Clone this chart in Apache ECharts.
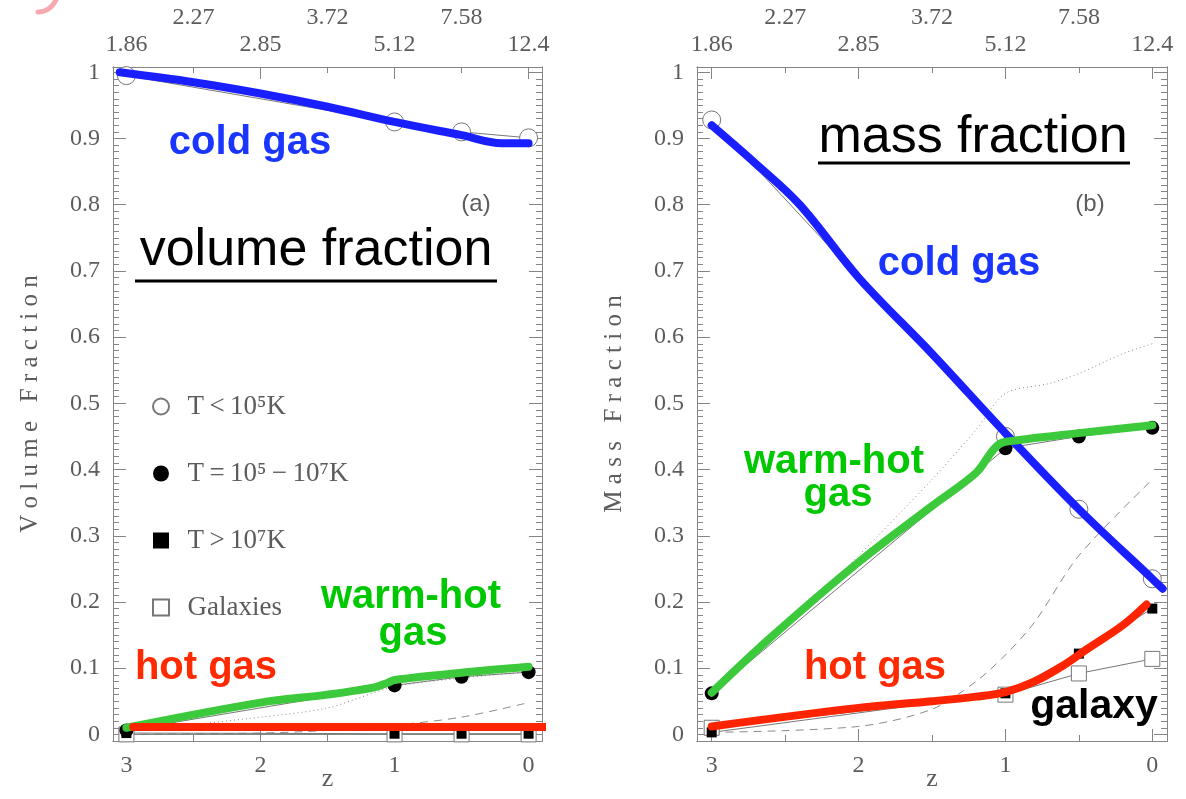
<!DOCTYPE html>
<html>
<head>
<meta charset="utf-8">
<script src="https://cdn.jsdelivr.net/npm/echarts@6/dist/echarts.min.js"></script>
<style>
html, body { margin: 0; padding: 0; background: #fff; }
#chart { width: 1186px; height: 799px; }
</style>
</head>
<body>
<div id="chart"></div>
<script>
// redshift of the simulation outputs
const zOut = [3, 1, 0.5, 0];

// (a) volume fraction per phase
const volCold = [0.995, 0.925, 0.910, 0.901];
const volWarm = [0.006, 0.074, 0.087, 0.094];
const volHot = [0.002, 0.001, 0.001, 0.001];
const volGal = [0.0, 0.0, 0.0, 0.0];

// (b) mass fraction per phase
const massCold = [0.928, 0.450, 0.340, 0.235];
const massWarm = [0.062, 0.432, 0.450, 0.463];
const massHot = [0.003, 0.062, 0.122, 0.190];
const massGal = [0.010, 0.060, 0.092, 0.114];

// thin dotted / dashed comparison curves
const volDotZ = [3, 2, 1.5, 1, 0.5, 0];
const volDot = [0.004, 0.026, 0.040, 0.072, 0.085, 0.095];
const volDashZ = [3, 2, 1.5, 1, 0.5, 0];
const volDash = [0.0, 0.002, 0.006, 0.014, 0.026, 0.048];
const massDotZ = [3, 2.5, 2, 1.5, 1.2, 1, 0.7, 0.5, 0.2, 0];
const massDot = [0.06, 0.16, 0.27, 0.385, 0.46, 0.515, 0.53, 0.545, 0.575, 0.59];
const massDashZ = [3, 2, 1.5, 1.2, 1, 0.8, 0.5, 0];
const massDash = [0.003, 0.012, 0.038, 0.08, 0.12, 0.17, 0.27, 0.385];

// thick hand drawn highlight curves
const volColdLineZ = [3.05, 2.5, 2, 1.5, 1, 0.5, 0.2, 0];
const volColdLine = [1.0, 0.985, 0.968, 0.948, 0.925, 0.905, 0.893, 0.893];
const volWarmLineZ = [3, 2, 1.5, 1.15, 1.05, 1.0, 0.5, 0];
const volWarmLine = [0.01, 0.048, 0.06, 0.071, 0.078, 0.082, 0.093, 0.102];
const volHotLineZ = [2.95, -0.13];
const volHotLine = [0.011, 0.011];
const massColdLineZ = [3, 2.7, 2.4, 2, 1.5, 1, 0.5, 0, -0.07];
const massColdLine = [0.92, 0.862, 0.80, 0.69, 0.575, 0.455, 0.34, 0.235, 0.22];
const massWarmLineZ = [3, 2.6, 2, 1.5, 1.2, 1.1, 1.05, 1, 0.5, 0];
const massWarmLine = [0.063, 0.146, 0.26, 0.345, 0.395, 0.425, 0.437, 0.442, 0.455, 0.467];
const massHotLineZ = [3, 2, 1.5, 1.2, 1, 0.8, 0.6, 0.45, 0.2, 0.04];
const massHotLine = [0.012, 0.04, 0.05, 0.057, 0.064, 0.08, 0.105, 0.128, 0.165, 0.196];

// axis ticks and labels
const zTicks = [3, 2, 1, 0];
const zHalfTicks = [2.5, 1.5, 0.5];
const ageLabels = ['1.86', '2.85', '5.12', '12.4'];
const ageHalfLabels = ['2.27', '3.72', '7.58'];
const yLabelVals = [0, 0.1, 0.2, 0.3, 0.4, 0.5, 0.6, 0.7, 0.8, 0.9, 1];
const legendNames = ['T\u2009<\u200910⁵K', 'T\u2009=\u200910⁵\u2009−\u200910⁷K', 'T\u2009>\u200910⁷K', 'Galaxies'];

const AXIS_COLOR = '#858585';
const TEXT_COLOR = '#5c5c5c';
const SERIF = '"Liberation Serif", "DejaVu Serif", serif';
const SANS = '"Liberation Sans", Arial, sans-serif';

const minorY = [];
for (let i = -1; i <= 100; i++) minorY.push(+(i * 0.01).toFixed(2));

const pairs = (xs, ys) => xs.map((x, i) => [x, ys[i]]);

function xAxesFor(g) {
  const base = {
    gridIndex: g, type: 'value', min: -0.1, max: 3.1, inverse: true,
    splitLine: { show: false },
    axisLine: { show: true, onZero: false, lineStyle: { color: AXIS_COLOR, width: 1 } }
  };
  const lab = { fontFamily: SERIF, fontSize: 24, color: TEXT_COLOR };
  return [
    Object.assign({}, base, {
      position: 'bottom',
      name: 'z', nameLocation: 'middle', nameGap: 25, nameMoveOverlap: false,
      nameTextStyle: { fontFamily: SERIF, fontSize: 26, color: TEXT_COLOR },
      axisTick: { inside: true, length: 12, customValues: zTicks, lineStyle: { color: AXIS_COLOR } },
      axisLabel: Object.assign({ customValues: zTicks, margin: 13 }, lab)
    }),
    Object.assign({}, base, {
      position: 'bottom',
      axisTick: { inside: true, length: 6, customValues: zHalfTicks, lineStyle: { color: AXIS_COLOR } },
      axisLabel: { show: false }
    }),
    Object.assign({}, base, {
      position: 'top',
      axisTick: { inside: true, length: 12, customValues: zTicks, lineStyle: { color: AXIS_COLOR } },
      axisLabel: Object.assign({
        customValues: zTicks, margin: 10,
        formatter: v => ageLabels[zTicks.indexOf(v)]
      }, lab)
    }),
    Object.assign({}, base, {
      position: 'top',
      axisTick: { inside: true, length: 6, customValues: zHalfTicks, lineStyle: { color: AXIS_COLOR } },
      axisLabel: Object.assign({
        customValues: zHalfTicks, margin: 37,
        formatter: v => ageHalfLabels[zHalfTicks.indexOf(v)]
      }, lab)
    })
  ];
}

function yAxesFor(g, title) {
  const base = {
    gridIndex: g, type: 'value', min: -0.01, max: 1.008,
    splitLine: { show: false },
    axisLine: { show: true, onZero: false, lineStyle: { color: AXIS_COLOR, width: 1 } }
  };
  return [
    Object.assign({}, base, {
      position: 'left',
      name: title, nameLocation: 'middle', nameGap: 70,
      nameTextStyle: { fontFamily: SERIF, fontSize: 25, color: TEXT_COLOR },
      axisTick: { inside: true, length: 13, customValues: yLabelVals, lineStyle: { color: AXIS_COLOR } },
      axisLabel: {
        customValues: yLabelVals, margin: 13,
        fontFamily: SERIF, fontSize: 24, color: TEXT_COLOR,
        formatter: v => (v === 0 || v === 1) ? String(v) : v.toFixed(1)
      }
    }),
    Object.assign({}, base, {
      position: 'left',
      axisTick: { inside: true, length: 6, customValues: minorY, lineStyle: { color: AXIS_COLOR } },
      axisLabel: { show: false }
    }),
    Object.assign({}, base, {
      position: 'right',
      axisTick: { inside: true, length: 13, customValues: yLabelVals, lineStyle: { color: AXIS_COLOR } },
      axisLabel: { show: false }
    }),
    Object.assign({}, base, {
      position: 'right',
      axisTick: { inside: true, length: 6, customValues: minorY, lineStyle: { color: AXIS_COLOR } },
      axisLabel: { show: false }
    })
  ];
}

// marker styles for the four phases
const markerStyles = [
  { symbol: 'circle', size: 18, itemStyle: { color: '#fff', borderColor: '#777', borderWidth: 1 } },
  { symbol: 'circle', size: 14, itemStyle: { color: '#000', borderColor: '#000', borderWidth: 0 } },
  { symbol: 'rect', size: 10, itemStyle: { color: '#000', borderColor: '#000', borderWidth: 0 } },
  { symbol: 'rect', size: 15, itemStyle: { color: '#fff', borderColor: '#777', borderWidth: 1 } }
];

function markerSeries(g, vals, k) {
  const st = markerStyles[k];
  return {
    name: legendNames[k], type: 'line',
    xAxisIndex: g * 4, yAxisIndex: g * 4,
    data: pairs(zOut, vals),
    symbol: st.symbol, symbolSize: st.size, showSymbol: true,
    itemStyle: st.itemStyle,
    lineStyle: { color: '#777', width: 1 },
    z: 3, animation: false
  };
}

function thinSeries(g, xs, ys, type) {
  return {
    type: 'line', xAxisIndex: g * 4, yAxisIndex: g * 4,
    data: pairs(xs, ys), smooth: 0.3, showSymbol: false, symbol: 'none',
    lineStyle: { color: '#8a8a8a', width: 1, type: type === 'dotted' ? [1, 3] : [8, 6] },
    z: 2, animation: false, silent: true
  };
}

function thickSeries(g, xs, ys, color) {
  return {
    type: 'line', xAxisIndex: g * 4, yAxisIndex: g * 4,
    data: pairs(xs, ys), smooth: 0.35, showSymbol: false, symbol: 'none',
    lineStyle: { color: color, width: 8, cap: 'round', join: 'round' },
    clip: false, z: 5, animation: false, silent: true
  };
}

const BLUE = '#1a1fff';
const GREEN = '#3cca3c';
const RED = '#ff2400';

function label(text, x, y, color, size, weight) {
  return {
    type: 'text', x: x, y: y, z: 100,
    style: {
      text: text, fill: color, align: 'center', verticalAlign: 'middle',
      font: (weight || 'bold') + ' ' + size + 'px ' + SANS
    }
  };
}

const chart = echarts.init(document.getElementById('chart'));
chart.setOption({
  backgroundColor: '#fff',
  animation: false,
  grid: [
    { left: 113, top: 67, width: 429, height: 674, outerBoundsMode: 'none', containLabel: false },
    { left: 697, top: 67, width: 470, height: 674, outerBoundsMode: 'none', containLabel: false }
  ],
  xAxis: xAxesFor(0).concat(xAxesFor(1)),
  yAxis: yAxesFor(0, 'V o l u m e   F r a c t i o n').concat(yAxesFor(1, 'M a s s   F r a c t i o n')),
  legend: {
    orient: 'vertical', left: 147, top: 388, itemGap: 40,
    itemWidth: 16, itemHeight: 16, selectedMode: false,
    formatter: name => '\u00a0\u00a0' + name,
    textStyle: { fontFamily: SERIF, fontSize: 27, color: TEXT_COLOR },
    data: [
      { name: legendNames[0], icon: 'circle' },
      { name: legendNames[1], icon: 'circle' },
      { name: legendNames[2], icon: 'rect' },
      { name: legendNames[3], icon: 'rect' }
    ]
  },
  series: [
    thinSeries(0, volDotZ, volDot, 'dotted'),
    thinSeries(0, volDashZ, volDash, 'dashed'),
    markerSeries(0, volGal, 3),
    markerSeries(0, volCold, 0),
    markerSeries(0, volWarm, 1),
    markerSeries(0, volHot, 2),
    thickSeries(0, volColdLineZ, volColdLine, BLUE),
    thickSeries(0, volWarmLineZ, volWarmLine, GREEN),
    thickSeries(0, volHotLineZ, volHotLine, RED),

    thinSeries(1, massDotZ, massDot, 'dotted'),
    thinSeries(1, massDashZ, massDash, 'dashed'),
    markerSeries(1, massGal, 3),
    markerSeries(1, massCold, 0),
    markerSeries(1, massWarm, 1),
    markerSeries(1, massHot, 2),
    thickSeries(1, massColdLineZ, massColdLine, BLUE),
    thickSeries(1, massWarmLineZ, massWarmLine, GREEN),
    thickSeries(1, massHotLineZ, massHotLine, RED)
  ],
  graphic: [
    // faint pink pen stroke in the top left corner of the scan
    { type: 'bezierCurve', z: 100, shape: { x1: 56, y1: 0, cpx1: 50, cpy1: 12, x2: 38, y2: 12 },
      style: { stroke: '#f7a9b0', lineWidth: 5, lineCap: 'round' } },
    label('cold gas', 250, 143, '#1a35ff', 40),
    label('volume fraction', 316, 251, '#000', 52, 'normal'),
    { type: 'line', z: 100, shape: { x1: 135, y1: 281, x2: 497, y2: 281 }, style: { stroke: '#000', lineWidth: 3 } },
    label('(a)', 476, 204, TEXT_COLOR, 24, 'normal'),
    label('warm-hot', 411, 597, '#00c800', 40),
    label('gas', 413, 634, '#00c800', 40),
    label('hot gas', 206, 668, '#ff2a00', 40),

    label('mass fraction', 973, 138, '#000', 52, 'normal'),
    { type: 'line', z: 100, shape: { x1: 818, y1: 163, x2: 1130, y2: 163 }, style: { stroke: '#000', lineWidth: 3 } },
    label('(b)', 1090, 204, TEXT_COLOR, 24, 'normal'),
    label('cold gas', 959, 264, '#1a35ff', 40),
    label('warm-hot', 834, 462, '#00c800', 40),
    label('gas', 838, 495, '#00c800', 40),
    label('hot gas', 875, 668, '#ff2a00', 40),
    label('galaxy', 1094, 707, '#000', 41)
  ]
});
</script>
</body>
</html>
